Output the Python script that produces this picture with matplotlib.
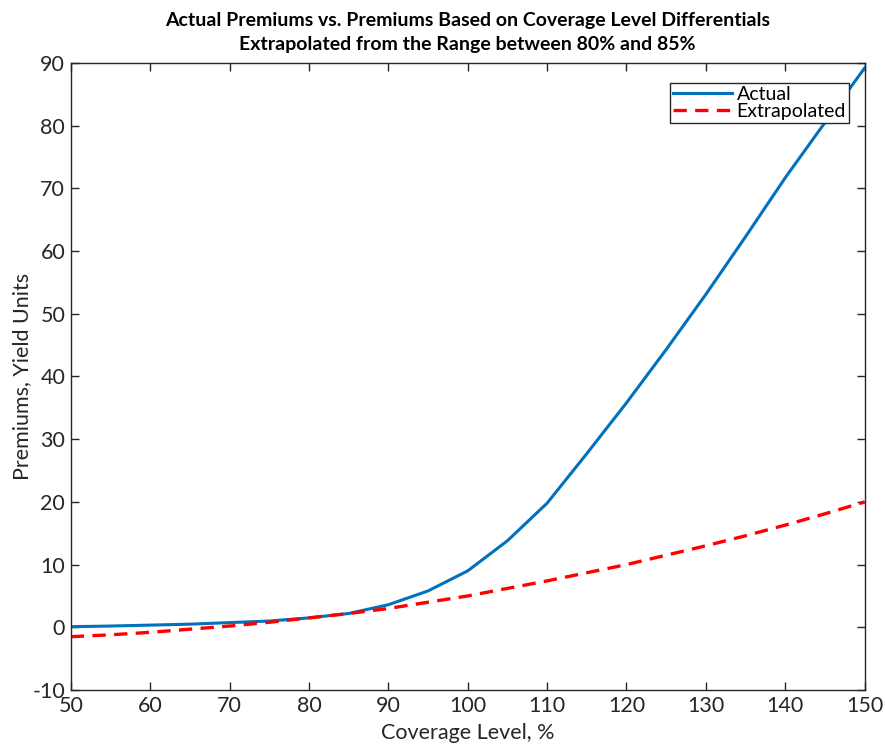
import numpy as np
import matplotlib
matplotlib.use('Agg')
import matplotlib.pyplot as plt

# coverage levels (%)
coverage = [50, 55, 60, 65, 70, 75, 80, 85, 90, 95, 100,
            105, 110, 115, 120, 125, 130, 135, 140, 145, 150]
# premiums (yield units)
actual = [0.1, 0.2, 0.35, 0.5, 0.75, 1.0, 1.5, 2.2, 3.6, 5.8, 9.0,
          13.8, 19.8, 27.7, 35.8, 44.3, 53.1, 62.3, 71.7, 80.5, 89.2]
extrapolated = [-1.5, -1.2, -0.8, -0.3, 0.2, 0.8, 1.5, 2.2, 3.0, 4.0, 5.0,
                6.2, 7.4, 8.7, 10.0, 11.5, 13.0, 14.6, 16.3, 18.1, 20.0]

plt.rcParams['font.family'] = ['Lato', 'DejaVu Sans']
plt.rcParams['axes.unicode_minus'] = False

fig = plt.figure(figsize=(8.85, 7.47), dpi=100)
ax = fig.add_axes([0.080, 0.0763, 0.897, 0.8394])

ax.plot(coverage, actual, '-', color='#0072BD', lw=2.2, label='Actual')
ax.plot(coverage, extrapolated, '--', color='#FF0000', lw=2.4,
        dashes=(4, 2.5), label='Extrapolated')

ax.set_xlim(50, 150)
ax.set_ylim(-10, 90)
ax.set_xticks(np.arange(50, 151, 10))
ax.set_yticks(np.arange(-10, 91, 10))
ax.tick_params(direction='in', length=6, width=1, colors='#262626',
               labelsize=15.5, top=True, right=True, pad=4)
for s in ax.spines.values():
    s.set_color('#262626')
    s.set_linewidth(1)

ax.set_xlabel('Coverage Level, %', fontsize=15.5, color='#262626', labelpad=5)
ax.set_ylabel('Premiums, Yield Units', fontsize=15.5, color='#262626', labelpad=0)
ax.set_title('Actual Premiums vs. Premiums Based on Coverage Level Differentials\n'
             'Extrapolated from the Range between 80% and 85%',
             fontsize=14, fontweight='bold', color='black', pad=9, linespacing=1.55)

leg = ax.legend(loc='upper right', bbox_to_anchor=(0.98, 0.968), fontsize=14,
                fancybox=False, framealpha=1, edgecolor='#262626',
                handlelength=3.0, handletextpad=0.25, borderpad=0.15,
                labelspacing=0.0, borderaxespad=0)
leg.get_frame().set_linewidth(1)

fig.savefig('out.png', dpi=100)
